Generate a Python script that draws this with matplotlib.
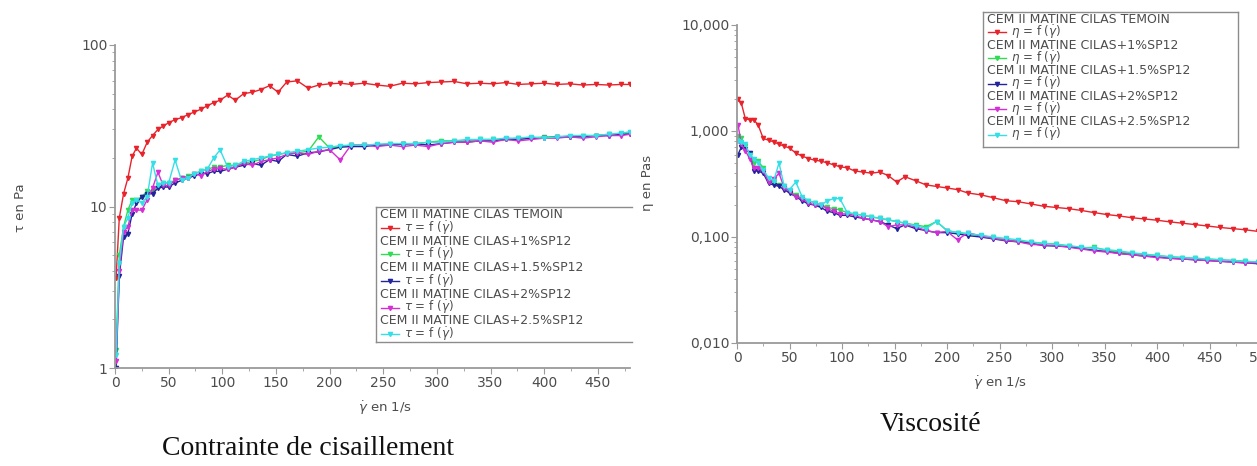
import matplotlib
matplotlib.use("Agg")
import matplotlib.pyplot as plt
from matplotlib.lines import Line2D
from matplotlib.ticker import FixedLocator, FixedFormatter, LogLocator, MultipleLocator, NullFormatter

# ---------------------------------------------------------------- data
samples = [
    "CEM II MATINE CILAS TEMOIN",
    "CEM II MATINE CILAS+1%SP12",
    "CEM II MATINE CILAS+1.5%SP12",
    "CEM II MATINE CILAS+2%SP12",
    "CEM II MATINE CILAS+2.5%SP12",
]
colors = ["#e8232b", "#2fdc52", "#23239c", "#d42fd4", "#34dfe6"]

# shear rate (1/s), shear-stress curves
rate_tau = [1, 4, 8, 12, 16, 20, 25, 30, 35, 40, 45, 50, 56, 62, 68, 74, 80, 86, 92, 98,
            105, 112, 120, 128, 136, 144, 152, 160, 170, 180, 190, 200, 210, 220, 232, 244,
            256, 268, 280, 292, 304, 316, 328, 340, 352, 364, 376, 388, 400, 412, 424, 436,
            448, 460, 472, 480]
tau_temoin = [3.6, 8.5, 12, 15, 20.5, 23, 21, 25, 27.5, 30, 31.5, 33, 34.5, 35.5, 37, 38.5,
              40, 42, 44, 45.5, 49, 45.5, 50, 51, 53, 56, 51, 59, 60, 54, 56.5, 57.5, 58, 57,
              58, 56.5, 55.5, 58, 57.5, 58.5, 59, 59.5, 57.5, 58, 57.5, 58.5, 57, 57.5, 58, 57,
              57.5, 56.5, 57, 56.5, 57, 57]
tau_sp1 = [1.3, 5.0, 7.5, 9.5, 11, 11, 11.5, 12.5, 12.5, 13.5, 14, 14, 14.5, 15, 15.5, 16,
           16.5, 17, 17.5, 17.5, 18, 18, 18.5, 19, 19.5, 20.5, 21, 21.5, 21.5, 22, 27, 23,
           23.5, 24, 24, 24, 24.5, 24.5, 24.5, 25, 25.5, 25.5, 25.5, 26, 26, 26, 26.5, 26.5,
           27, 27, 27, 27.5, 27.5, 28, 28, 28.5]
tau_sp15 = [1.0, 3.7, 6.5, 6.8, 9, 10.5, 11.5, 12, 12, 13, 13.2, 13.2, 14, 14.5, 15, 15.5,
            16, 16, 16.5, 16.5, 17, 17.5, 18, 18.5, 18, 19.5, 19, 21, 20.5, 21.5, 21.8, 22.5,
            23.3, 23.5, 23.5, 24, 24, 24.3, 24.5, 24, 24.5, 25, 25, 25.5, 25.5, 26, 26, 26.5,
            26.5, 27, 27, 27, 27.5, 27.5, 28, 28]
tau_sp2 = [1.1, 4.0, 7, 7.5, 9.5, 9.5, 9.5, 11, 13, 16.3, 13.5, 13.5, 14.5, 15, 15, 16, 15.5,
           16.5, 17, 17.2, 17, 17.5, 18.5, 18, 19, 19.5, 20, 21, 21.5, 21, 22, 22.5, 19.4,
           24, 24, 23.5, 24, 23.5, 24, 23.5, 24.5, 25, 25, 25.5, 25, 26, 25.5, 26, 26.5, 26.5,
           27, 26.5, 27, 27.5, 27.5, 28]
tau_sp25 = [1.2, 4.5, 7.5, 8.5, 10.5, 11, 10.5, 11.5, 18.6, 13.5, 14, 14, 19.4, 14.5, 15,
            16, 16.5, 17, 20, 22.4, 17.5, 18, 19, 19.5, 20, 20.5, 21, 21.5, 22, 22.5, 23,
            23.3, 23.8, 24, 24, 24.3, 24.5, 24.5, 24.5, 25, 25, 25.5, 26, 26, 26, 26.5, 26.5,
            27, 26.5, 27, 27.5, 27.5, 27.5, 28, 28.5, 29]

# shear rate (1/s), viscosity curves
rate_eta = [1, 4, 8, 12, 16, 20, 25, 30, 35, 40, 45, 50, 56, 62, 68, 74, 80, 86, 92, 98,
            105, 112, 120, 128, 136, 144, 152, 160, 170, 180, 190, 200, 210, 220, 232, 244,
            256, 268, 280, 292, 304, 316, 328, 340, 352, 364, 376, 388, 400, 412, 424, 436,
            448, 460, 472, 484, 496]
eta_temoin = [2.0, 1.85, 1.3, 1.28, 1.27, 1.15, 0.85, 0.82, 0.79, 0.75, 0.72, 0.69, 0.62,
              0.58, 0.55, 0.53, 0.52, 0.5, 0.48, 0.46, 0.45, 0.42, 0.41, 0.40, 0.41, 0.38,
              0.33, 0.37, 0.34, 0.31, 0.30, 0.29, 0.28, 0.26, 0.25, 0.235, 0.22, 0.215, 0.205,
              0.195, 0.19, 0.185, 0.178, 0.17, 0.163, 0.158, 0.152, 0.148, 0.144, 0.139,
              0.135, 0.131, 0.127, 0.123, 0.12, 0.117, 0.113]
eta_sp1 = [0.9, 0.85, 0.72, 0.6, 0.5, 0.52, 0.45, 0.34, 0.33, 0.31, 0.3, 0.27, 0.25, 0.23,
           0.22, 0.21, 0.2, 0.19, 0.185, 0.18, 0.17, 0.165, 0.16, 0.155, 0.15, 0.145, 0.14,
           0.135, 0.13, 0.125, 0.14, 0.115, 0.11, 0.107, 0.103, 0.099, 0.095, 0.091, 0.089,
           0.087, 0.086, 0.082, 0.079, 0.08, 0.075, 0.072, 0.07, 0.068, 0.067, 0.065, 0.064,
           0.063, 0.062, 0.061, 0.06, 0.059, 0.058]
eta_sp15 = [0.6, 0.7, 0.68, 0.62, 0.42, 0.42, 0.4, 0.32, 0.31, 0.3, 0.28, 0.26, 0.24, 0.22,
            0.205, 0.2, 0.19, 0.175, 0.17, 0.16, 0.16, 0.155, 0.15, 0.145, 0.14, 0.13, 0.12,
            0.13, 0.12, 0.115, 0.11, 0.11, 0.107, 0.103, 0.1, 0.096, 0.092, 0.09, 0.087,
            0.083, 0.082, 0.081, 0.078, 0.075, 0.073, 0.07, 0.068, 0.066, 0.065, 0.063, 0.062,
            0.061, 0.06, 0.059, 0.058, 0.057, 0.056]
eta_sp2 = [1.15, 0.75, 0.65, 0.55, 0.45, 0.45, 0.42, 0.33, 0.35, 0.4, 0.29, 0.27, 0.24, 0.23,
           0.21, 0.2, 0.2, 0.185, 0.175, 0.165, 0.165, 0.16, 0.15, 0.145, 0.14, 0.125, 0.13,
           0.13, 0.125, 0.115, 0.11, 0.113, 0.094, 0.11, 0.102, 0.097, 0.093, 0.09, 0.085,
           0.084, 0.083, 0.08, 0.077, 0.074, 0.072, 0.07, 0.068, 0.066, 0.064, 0.063, 0.062,
           0.061, 0.06, 0.059, 0.058, 0.057, 0.057]
eta_sp25 = [0.8, 0.78, 0.75, 0.6, 0.55, 0.5, 0.43, 0.36, 0.34, 0.5, 0.3, 0.28, 0.33, 0.24,
            0.22, 0.21, 0.2, 0.22, 0.23, 0.23, 0.17, 0.165, 0.16, 0.155, 0.15, 0.145, 0.14,
            0.135, 0.128, 0.12, 0.14, 0.115, 0.11, 0.108, 0.104, 0.1, 0.097, 0.094, 0.09,
            0.087, 0.085, 0.083, 0.08, 0.078, 0.076, 0.074, 0.071, 0.069, 0.067, 0.065,
            0.064, 0.063, 0.062, 0.061, 0.06, 0.059, 0.058]

tau_series = [tau_temoin, tau_sp1, tau_sp15, tau_sp2, tau_sp25]
eta_series = [eta_temoin, eta_sp1, eta_sp15, eta_sp2, eta_sp25]

tau_ticks = [1, 10, 100]
tau_ticklabels = ["1", "10", "100"]
eta_ticks = [0.01, 0.1, 1, 10]
eta_ticklabels = ["0,010", "0,100", "1,000", "10,000"]
rate_ticks_tau = [0, 50, 100, 150, 200, 250, 300, 350, 400, 450]
rate_ticks_eta = [0, 50, 100, 150, 200, 250, 300, 350, 400, 450, 500]

# ---------------------------------------------------------------- figure
W, H = 1257, 466
plt.rcParams["font.family"] = ["DejaVu Sans"]
plt.rcParams["mathtext.fontset"] = "dejavusans"
fig = plt.figure(figsize=(W / 100, H / 100), dpi=100)
fig.patch.set_facecolor("white")

TXT = "#4d4d4d"
AXC = "#9a9a9a"


def fx(px):
    return px / W


def fy(py):
    return 1 - py / H


def style_axis(ax, yticks, ylabels, xticks):
    for side in ("top", "right"):
        ax.spines[side].set_visible(False)
    for side in ("left", "bottom"):
        ax.spines[side].set_color(AXC)
        ax.spines[side].set_linewidth(1.3)
    ax.set_yscale("log")
    ax.yaxis.set_major_locator(FixedLocator(yticks))
    ax.yaxis.set_major_formatter(FixedFormatter(ylabels))
    ax.yaxis.set_minor_locator(LogLocator(base=10, subs=range(2, 10)))
    ax.yaxis.set_minor_formatter(NullFormatter())
    ax.xaxis.set_major_locator(FixedLocator(xticks))
    ax.xaxis.set_minor_locator(MultipleLocator(25))
    ax.tick_params(which="major", length=4, width=0.8, color=AXC, labelcolor=TXT,
                   labelsize=10, pad=1.5)
    ax.tick_params(which="minor", length=2, width=0.6, color=AXC)


def draw_curves(ax, rates, series):
    for vals, col in zip(series, colors):
        ax.plot(rates, vals, color=col, lw=1.0, marker="v", ms=3.0,
                mec=col, mfc=col, clip_on=True)


def draw_legend(x0, y0, x1, y1, row_step, func_label, right_border=True):
    tr = fig.transFigure
    edges = [((x0, x1), (y0, y0)), ((x0, x1), (y1, y1)), ((x0, x0), (y0, y1))]
    if right_border:
        edges.append(((x1, x1), (y0, y1)))
    for xs, ys in edges:
        fig.add_artist(Line2D([fx(v) for v in xs], [fy(v) for v in ys], transform=tr,
                              color="#8c8c8c", lw=1.0))
    tx = x0 + 4
    for i, (name, col) in enumerate(zip(samples, colors)):
        yt = y0 + 7.5 + 2 * i * row_step
        yf = yt + row_step
        fig.text(fx(tx), fy(yt), name, color=TXT, fontsize=9, ha="left", va="center")
        fig.add_artist(Line2D([fx(tx + 1), fx(tx + 19)], [fy(yf), fy(yf)], transform=tr,
                              color=col, lw=1.0))
        fig.add_artist(Line2D([fx(tx + 10)], [fy(yf)], transform=tr, color=col,
                              marker="v", ms=3.0, lw=0))
        fig.text(fx(tx + 24), fy(yf), func_label, color=TXT, fontsize=8.6,
                 ha="left", va="center")


# shear stress panel
axL = fig.add_axes([fx(115), fy(368), fx(630) - fx(115), fy(45) - fy(368)])
draw_curves(axL, rate_tau, tau_series)
style_axis(axL, tau_ticks, tau_ticklabels, rate_ticks_tau)
axL.set_xlim(0, 480)
axL.set_ylim(1, 100)

# viscosity panel
axR = fig.add_axes([fx(737), fy(343), fx(1262) - fx(737), fy(25) - fy(343)])
draw_curves(axR, rate_eta, eta_series)
style_axis(axR, eta_ticks, eta_ticklabels, rate_ticks_eta)
axR.set_xlim(0, 500)
axR.set_ylim(0.01, 10)

# axis titles
fig.text(fx(20), fy(208), "τ en Pa", rotation=90, ha="center", va="center",
         color=TXT, fontsize=9.5)
fig.text(fx(385), fy(408), r"$\dot{\gamma}$ en 1/s", ha="center", va="center",
         color=TXT, fontsize=9.5)
fig.text(fx(648), fy(183), "η en Pas", rotation=90, ha="center", va="center",
         color=TXT, fontsize=9.5)
fig.text(fx(1000), fy(383), r"$\dot{\gamma}$ en 1/s", ha="center", va="center",
         color=TXT, fontsize=9.5)

# legends
draw_legend(376, 207, 632, 342, 13.3, r"$\tau$ = f ($\dot{\gamma}$)", right_border=False)
draw_legend(983, 12, 1238, 147, 12.8, r"$\eta$ = f ($\dot{\gamma}$)")

# panel captions
fig.text(fx(308), fy(455), "Contrainte de cisaillement", family="Liberation Serif",
         fontsize=20, ha="center", va="baseline", color="#111111")
fig.text(fx(931), fy(431), "Viscosité", family="Liberation Serif",
         fontsize=20, ha="center", va="baseline", color="#111111")

fig.savefig("out.png", dpi=100, facecolor="white")
